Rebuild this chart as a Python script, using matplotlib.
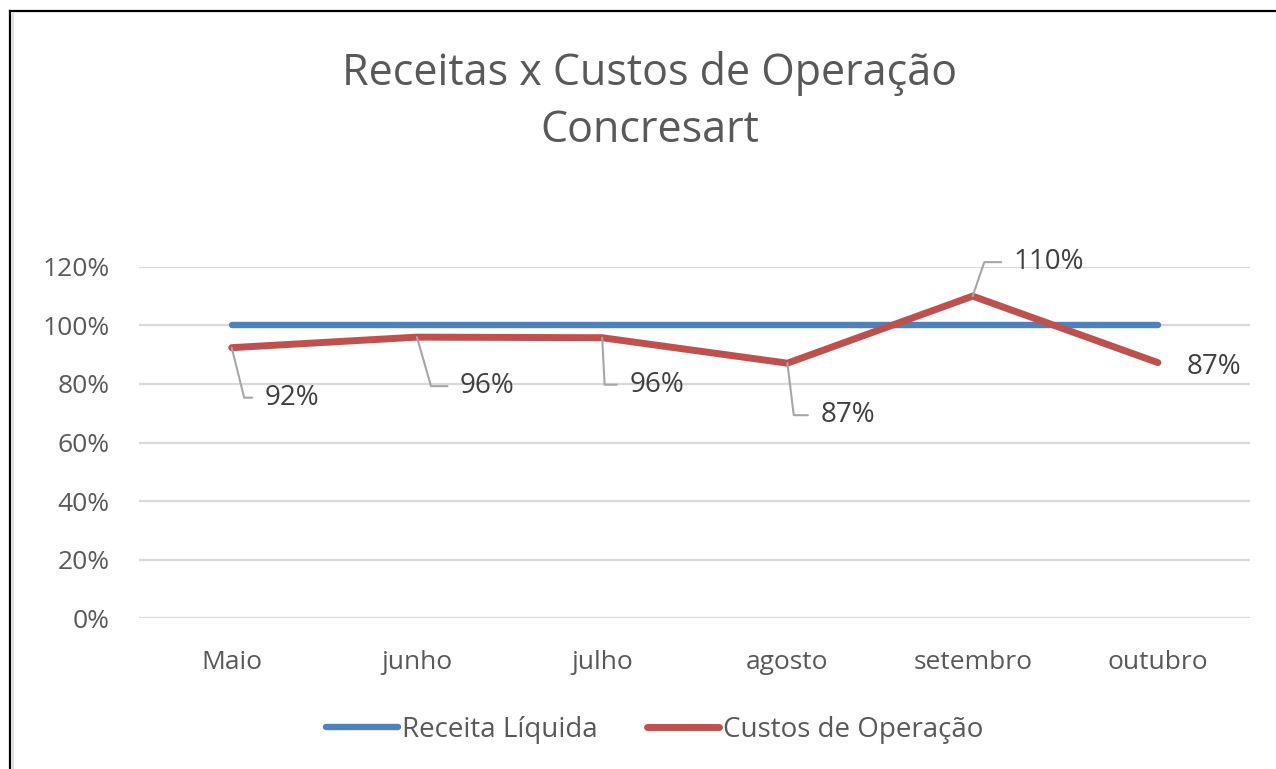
import matplotlib.pyplot as plt
from matplotlib.lines import Line2D
import numpy as np

# data
meses = ['Maio', 'junho', 'julho', 'agosto', 'setembro', 'outubro']
receita = [1.0, 1.0, 1.0, 1.0, 1.0, 1.0]
custos = [0.924, 0.960, 0.958, 0.871, 1.100, 0.873]
yticks = [0, 0.2, 0.4, 0.6, 0.8, 1.0, 1.2]

# label offsets (pixels) and leader angle for each data label
lbl_dx = [33, 43, 27, 33, 41, 29]
lbl_dy = [-50, -49, -47, -52, 34, -4]
lead_ang = [-76, -74, -87, -83, 71, None]

plt.rcParams['font.family'] = ['Open Sans', 'DejaVu Sans']
azul = '#4F81BD'
vermelho = '#C0504D'
cinza_txt = '#595959'

fig = plt.figure(figsize=(12.76, 7.69), dpi=100)
ax = fig.add_axes([0.109, 0.196, 0.871, 0.457])

x = np.arange(len(meses))
ax.plot(x, receita, color=azul, lw=4.6, solid_capstyle='round', label='Receita Líquida', zorder=3)
ax.plot(x, custos, color=vermelho, lw=5, solid_capstyle='round', solid_joinstyle='miter',
        label='Custos de Operação', zorder=4)

ax.set_xlim(-0.5, len(meses) - 0.5)
ax.set_ylim(0, 1.2)
ax.set_yticks(yticks)
ax.set_yticklabels(['{:.0%}'.format(v) for v in yticks])
ax.set_xticks(x)
ax.set_xticklabels(meses)
ax.tick_params(length=0, labelsize=19, colors=cinza_txt)
ax.tick_params(axis='y', pad=21)
ax.tick_params(axis='x', pad=23)
ax.grid(axis='y', color='#D9D9D9', lw=1.6)
ax.set_axisbelow(True)
for s in ax.spines.values():
    s.set_visible(False)

# data labels with leader lines
for i in range(len(meses)):
    txt = '{:.0%}'.format(custos[i])
    if lead_ang[i] is None:
        ax.annotate(txt, (x[i], custos[i]), xytext=(lbl_dx[i], lbl_dy[i]),
                    textcoords='offset pixels', ha='left', va='center',
                    fontsize=20, color='#404040')
    else:
        ax.annotate(txt, (x[i], custos[i]), xytext=(lbl_dx[i], lbl_dy[i]),
                    textcoords='offset pixels', ha='left', va='center',
                    fontsize=20, color='#404040', zorder=5,
                    arrowprops=dict(arrowstyle='-', color='#A6A6A6', lw=1.5,
                                    shrinkA=7, shrinkB=0,
                                    connectionstyle='angle,angleA=0,angleB=%d,rad=0' % lead_ang[i]))

fig.text(0.509, 1 - 74 / 769, 'Receitas x Custos de Operação', ha='center', va='center',
         fontsize=31, color=cinza_txt)
fig.text(0.509, 1 - 131 / 769, 'Concresart', ha='center', va='center',
         fontsize=31, color=cinza_txt)

fig.legend(loc='center', bbox_to_anchor=(0.513, 1 - 730 / 769), ncol=2, frameon=False,
           fontsize=20, labelcolor=cinza_txt, handlelength=2.6, handletextpad=0.12,
           columnspacing=1.8)

# chart frame (left and top edges)
fig.add_artist(Line2D([9.5 / 1276, 9.5 / 1276], [0, 1 - 11 / 769], color='black', lw=1.6))
fig.add_artist(Line2D([9.5 / 1276, 1], [1 - 11 / 769, 1 - 11 / 769], color='black', lw=1.6))
fig.add_artist(Line2D([12.5 / 1276, 12.5 / 1276], [0, 1 - 13 / 769], color='#D9D9D9', lw=1.2))

fig.savefig('out.png', dpi=100)
